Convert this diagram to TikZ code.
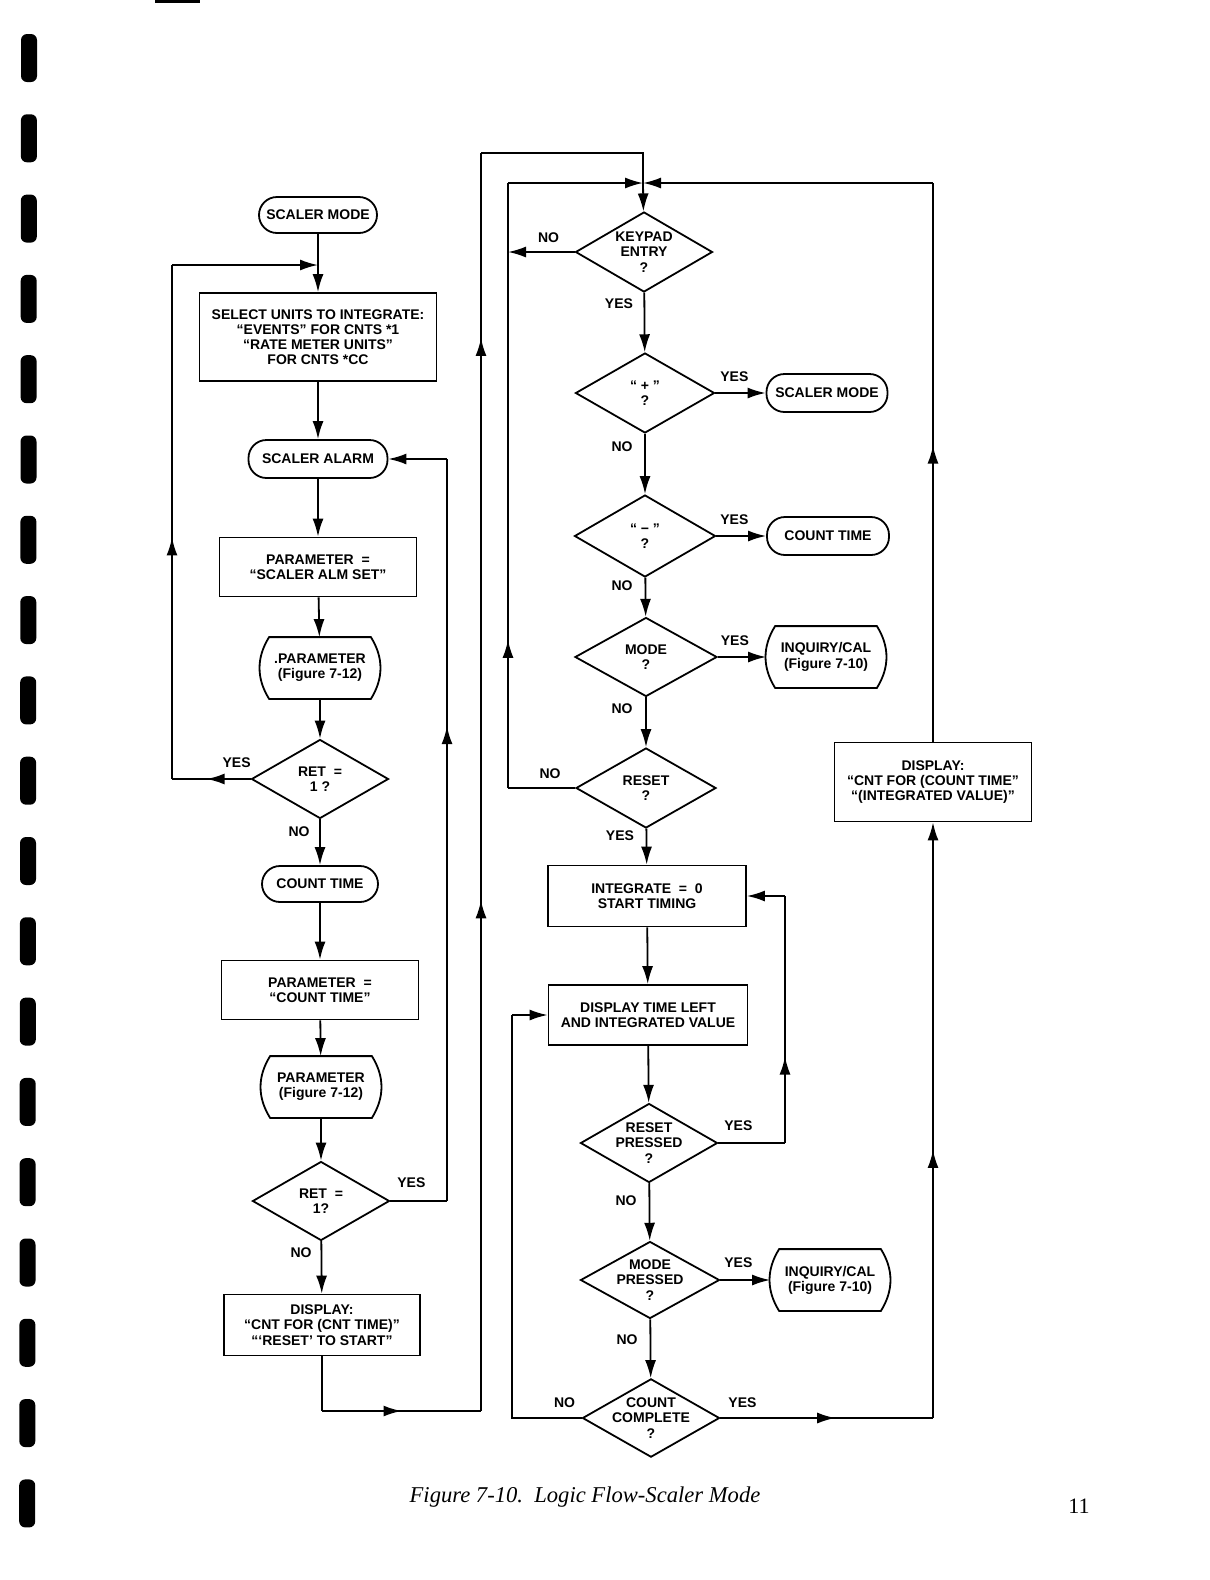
\documentclass[tikz,border=0pt]{standalone}
\usepackage{fontspec}
\setmainfont{Liberation Sans}
\newfontfamily\capfont{Liberation Serif}
\usetikzlibrary{arrows.meta,shapes.geometric,decorations.markings}

\tikzset{
  >={Latex[length=9pt,width=5.5pt]},
  midarr/.style={postaction={decorate,decoration={markings,
      mark=at position #1 with {\arrow{>}}}}},
}

\begin{document}
\begin{tikzpicture}[x=0.5pt,y=-0.5pt,
  line width=0.9pt,
  font=\fontsize{7}{7.6}\selectfont\bfseries,
  term/.style={rectangle,draw,rounded corners=9pt,minimum height=18pt,inner xsep=1pt},
  proc/.style={rectangle,draw,align=center,minimum width=98.5pt,minimum height=29.5pt},
  dec/.style={diamond,draw,align=center,aspect=1.75,inner sep=-1pt,
              minimum width=68.5pt,minimum height=39.5pt},
  pref/.style={align=center,inner sep=0pt,minimum width=59pt,minimum height=30pt},
  lbl/.style={inner sep=0pt}
  ]
\useasboundingbox (0,0) rectangle (1210,1580);

% punched strip of the page
\foreach \i in {0,...,18}
  \fill[rounded corners=3pt] ({21-0.1*\i},{34+80.3*\i}) rectangle ++(16,48);
\fill (155,0) rectangle (200,3);

% left column
\node[term,minimum width=59pt] (lmode) at (318,215) {SCALER MODE};
\node[proc,minimum width=118.5pt,minimum height=44pt] (sel) at (318,337)
     {SELECT UNITS TO INTEGRATE:\\“EVENTS” FOR CNTS *1\\“RATE METER UNITS”\\FOR CNTS *CC};
\node[term,minimum width=69.5pt,minimum height=19pt] (lalarm) at (318,459) {SCALER ALARM};
\node[proc] (parA) at (318,567) {PARAMETER \ =\\“SCALER ALM SET”};
\node[pref] (prefA) at (320,668) {.PARAMETER\\(Figure 7-12)};
\node[dec] (ret1) at (320,779) {RET \ =\\1 ?};
\node[term,minimum width=58pt] (lcount) at (320,884) {COUNT TIME};
\node[proc] (parB) at (320,990) {PARAMETER \ =\\“COUNT TIME”};
\node[pref] (prefB) at (321,1087) {PARAMETER\\(Figure 7-12)};
\node[dec] (ret2) at (321,1201) {RET \ =\\1?};
\node[proc,minimum width=98pt,minimum height=30.5pt] (ldisp) at (322,1325)
     {DISPLAY:\\“CNT FOR (CNT TIME)”\\“‘RESET’ TO START”};

% right column
\node[dec,minimum height=40pt] (key) at (644,252) {KEYPAD\\ENTRY\\?};
\node[dec,minimum width=69.5pt,minimum height=40pt] (plus) at (645,393) {“ + ”\\?};
\node[term,minimum width=60.5pt,minimum height=19pt] (rmode) at (827,393) {SCALER MODE};
\node[dec,minimum width=70.5pt,minimum height=41pt] (minus) at (645,536) {“ − ”\\?};
\node[term,minimum width=61pt,minimum height=19pt] (rcount) at (828,536) {COUNT TIME};
\node[dec,minimum width=71pt] (mode) at (646,657) {MODE\\?};
\node[pref] (inqA) at (826,657) {INQUIRY/CAL\\(Figure 7-10)};
\node[dec,minimum width=70pt,minimum height=40pt] (reset) at (646,788) {RESET\\?};
\node[proc,minimum width=99pt,minimum height=30.5pt] (integ) at (647,896)
     {INTEGRATE \ = \ 0\\START TIMING};
\node[proc,minimum width=99.5pt,minimum height=30pt] (disp) at (648,1015)
     {DISPLAY TIME LEFT\\AND INTEGRATED VALUE};
\node[dec] (rpress) at (649,1143) {RESET\\PRESSED\\?};
\node[dec,minimum width=69.5pt,minimum height=38.5pt] (mpress) at (650,1280) {MODE\\PRESSED\\?};
\node[pref] (inqB) at (830,1280) {INQUIRY/CAL\\(Figure 7-10)};
\node[dec,minimum width=66.5pt,minimum height=38.5pt] (cnt) at (651,1418) {COUNT\\COMPLETE\\?};
\node[proc,minimum width=98.5pt,minimum height=39.5pt] (rdisp) at (933,782)
     {DISPLAY:\\“CNT FOR (COUNT TIME”\\“(INTEGRATED VALUE)”};

% predefined process outlines
\foreach \n in {prefA,prefB,inqA,inqB}
  \draw ([xshift=4.5pt]\n.north west) to[bend right=32] ([xshift=4.5pt]\n.south west)
     -- ([xshift=-4.5pt]\n.south east) to[bend right=32] ([xshift=-4.5pt]\n.north east) -- cycle;

%
\coordinate (j1) at (318,265);
\coordinate (c1) at (172,779);
\coordinate (c2) at (172,265);
\coordinate (c3) at (447,1201);
\coordinate (c4) at (447,459);
\coordinate (c5) at (322,1411);
\coordinate (c6) at (481,1411);
\coordinate (c7) at (481,153);
\coordinate (c8) at (643,153);
\coordinate (jtop) at (643,183);
\coordinate (c9) at (508,183);
\coordinate (c10) at (933,183);
\coordinate (c11) at (508,252);
\coordinate (c12) at (508,788);
\coordinate (c13) at (785,1143);
\coordinate (c14) at (785,896);
\coordinate (c15) at (512,1418);
\coordinate (c16) at (512,1015);
\coordinate (c17) at (933,1418);

%
\draw (lmode) -- (j1);
\draw[->] (j1) -- (sel);
\foreach \a/\b in {sel/lalarm,lalarm/parA,parA/prefA,prefA/ret1,ret1/lcount,lcount/parB,
                   parB/prefB,prefB/ret2,ret2/ldisp,
                   key/plus,plus/minus,minus/mode,mode/reset,reset/integ,integ/disp,
                   disp/rpress,rpress/mpress,mpress/cnt,
                   plus/rmode,minus/rcount,mode/inqA,mpress/inqB}
  \draw[->] (\a) -- (\b);

\draw[midarr=0.56] (ret1.west) -- (c1);
\draw[midarr=0.47] (c1) -- (c2);
\draw[->] (c2) -- (j1);

\draw (ret2.east) -- (c3);
\draw[midarr=0.64] (c3) -- (c4);
\draw[->] (c4) -- (lalarm.east);

\draw (ldisp) -- (c5);
\draw[midarr=0.5] (c5) -- (c6);
\draw[midarr=0.406,midarr=0.853] (c6) -- (c7);
\draw (c7) -- (c8) -- (jtop);
\draw[->] (jtop) -- (key);
\draw[->] (c9) -- (jtop);
\draw[->] (c10) -- (jtop);

\draw[->] (key.west) -- (c11);
\draw (reset.west) -- (c12);
\draw[midarr=0.245] (c12) -- (c9);

\draw (rpress.east) -- (c13);
\draw[midarr=0.35] (c13) -- (c14);
\draw[->] (c14) -- (integ.east);

\draw (cnt.west) -- (c15) -- (c16);
\draw[->] (c16) -- (disp.west);

\draw[midarr=0.54] (cnt.east) -- (c17);
\draw[->,midarr=0.45] (c17) -- (rdisp.south);
\draw[midarr=0.53] (rdisp.north) -- (c10);

%
\foreach \n/\a/\p/\t in {ret1/west/{-14,-16}/YES, ret1/south/{-21,12}/NO,
    ret2/east/{21,-18}/YES, ret2/south/{-20,11}/NO,
    key/west/{-26,-14}/NO, key/south/{-25,11}/YES,
    plus/east/{19,-16}/YES, plus/south/{-23,13}/NO,
    minus/east/{18,-16}/YES, minus/south/{-23,8}/NO,
    mode/east/{17,-16}/YES, mode/south/{-24,11}/NO,
    reset/west/{-25,-14}/NO, reset/south/{-26,7}/YES,
    rpress/east/{20,-17}/YES, rpress/south/{-23,17}/NO,
    mpress/east/{18,-17}/YES, mpress/south/{-23,20}/NO,
    cnt/west/{-17,-15}/NO, cnt/east/{22,-15}/YES}
  \node[lbl] at ([shift={(\p)}]\n.\a) {\t};

\node[font=\capfont\itshape\fontsize{11.3}{13}\selectfont] (cap) at (585,1497)
     {Figure 7-10.\ \ Logic Flow-Scaler Mode};
\node[font=\capfont\fontsize{11}{13}\selectfont] (pnum) at (1079,1506) {11};
\end{tikzpicture}
\end{document}
